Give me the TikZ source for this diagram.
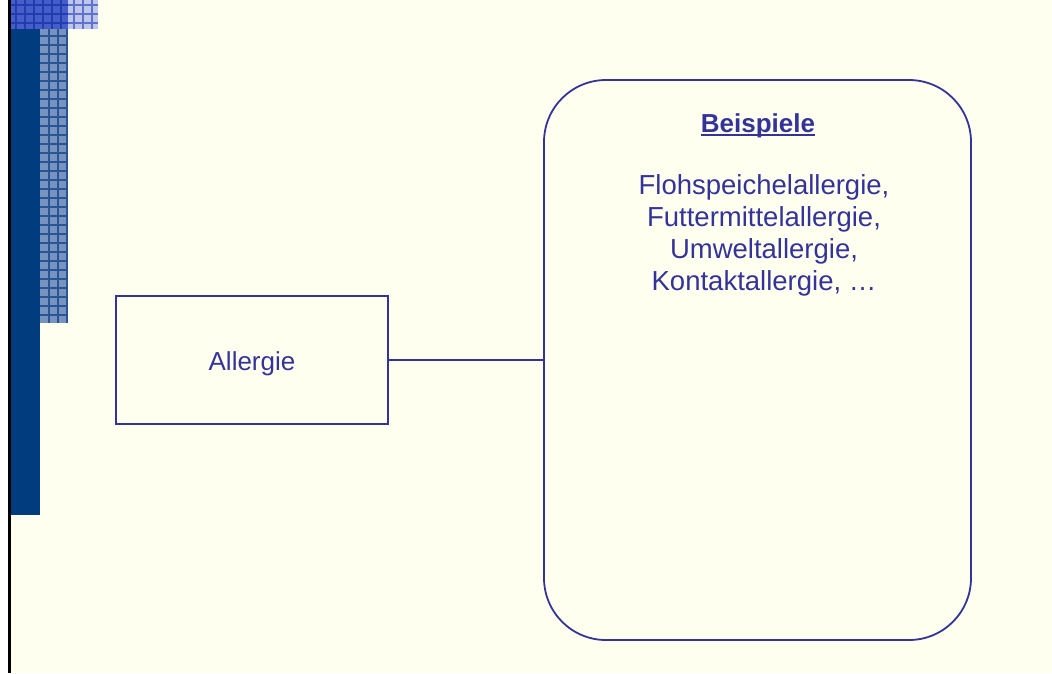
\documentclass[tikz,border=0pt]{standalone}
\usepackage{fontspec}
\setmainfont{Liberation Sans}
\definecolor{paper}{RGB}{255,255,240}
\definecolor{ink}{RGB}{51,51,153}
\definecolor{navy}{RGB}{0,60,126}
\definecolor{plaidA}{RGB}{70,95,200}
\definecolor{plaidAline}{RGB}{35,60,175}
\definecolor{plaidB}{RGB}{190,198,235}
\definecolor{plaidBline}{RGB}{95,115,205}
\definecolor{plaidC}{RGB}{120,148,190}
\definecolor{plaidCline}{RGB}{40,85,150}
\tikzset{
  txt/.style={text=ink, font=\fontsize{26}{32}\selectfont, align=center},
  plainbox/.style={draw=ink, line width=1.8pt, fill=paper},
  roundbox/.style={draw=ink, line width=1.8pt, rounded corners=62pt, fill=paper},
  link/.style={draw=ink, line width=1.6pt},
  gridA/.style={plaidAline, line width=1.2pt},
  gridB/.style={plaidBline, line width=1.2pt},
  gridC/.style={plaidCline, line width=1.5pt}
}
\begin{document}
\begin{tikzpicture}[x=1pt,y=-1pt]
  % page background
  \useasboundingbox (0,0) rectangle (1052,673);
  \fill[paper] (0,0) rectangle (1052,673);
  \fill[white] (0,0) rectangle (8,673);
  \fill[black] (8,0) rectangle (10.5,673);

  % decorative bars on the left edge
  \fill[navy] (10.5,29) rectangle (40,515);
  \fill[plaidA] (10.5,0) rectangle (68,29);
  \foreach \x in {16,25,34,43,52,61} \draw[gridA] (\x,0) -- (\x,29);
  \foreach \y in {5,14,23} \draw[gridA] (10.5,\y) -- (68,\y);
  \fill[plaidB] (68,0) rectangle (98,29);
  \foreach \x in {74,83,92} \draw[gridB] (\x,0) -- (\x,29);
  \foreach \y in {5,14,23} \draw[gridB] (68,\y) -- (98,\y);
  \fill[plaidC] (40,29) rectangle (68,323);
  \foreach \x in {49,58,67} \draw[gridC] (\x,29) -- (\x,323);
  \foreach \y in {36,45,...,320} \draw[gridC] (40,\y) -- (68,\y);

  % diagram
  \node[plainbox, minimum width=272pt, minimum height=128pt, inner sep=0pt]
    (allergie) at (252,360) {};
  \node[txt] at (252,364) {Allergie};

  \node[roundbox, minimum width=427pt, minimum height=560pt, inner sep=0pt]
    (beispiele) at (757.5,360) {};
  \node[txt, font=\fontsize{26}{32}\selectfont\bfseries, inner sep=0pt, anchor=base]
    (title) at (758,132) {Beispiele};
  \draw[ink, line width=2.4pt] ([yshift=-3pt]title.base west)
    -- ([yshift=-3pt]title.base east);
  \node[txt, font=\fontsize{27.5}{32}\selectfont, anchor=north] (list) at (764,171)
    {Flohspeichelallergie,\\Futtermittelallergie,\\Umweltallergie,\\Kontaktallergie, …};

  \draw[link] (allergie.east) -- (beispiele.west);
\end{tikzpicture}
\end{document}
